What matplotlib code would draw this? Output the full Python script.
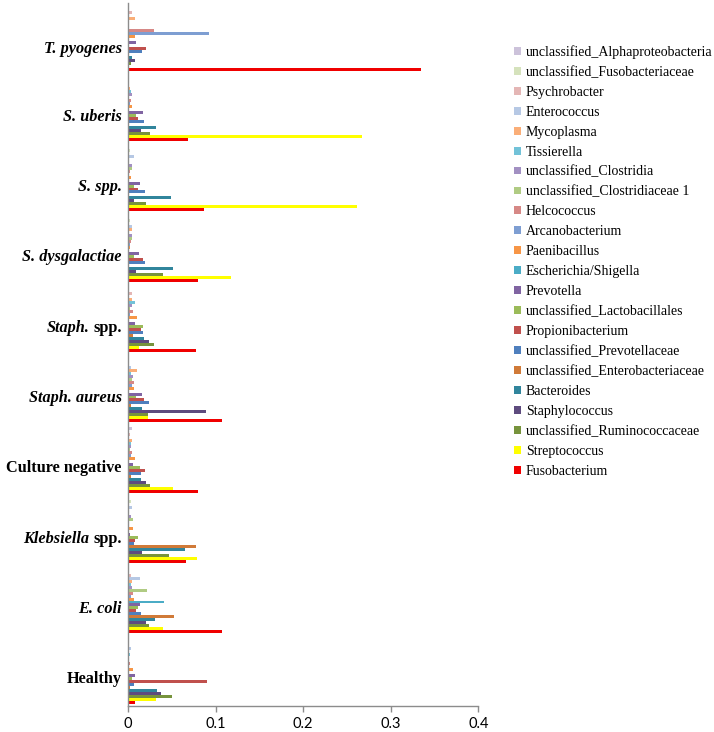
import numpy as np
import matplotlib
matplotlib.use("Agg")
import matplotlib.pyplot as plt
from matplotlib.patches import Patch

# categories, bottom to top
groups = ["Healthy", "E. coli", "Klebsiella spp.", "Culture negative",
          "Staph. aureus", "Staph. spp.", "S. dysgalactiae", "S. spp.",
          "S. uberis", "T. pyogenes"]
# (italic part, upright part) for each label
label_parts = [("", "Healthy"), ("E. coli", ""), ("Klebsiella", "spp."),
               ("", "Culture negative"), ("Staph. aureus", ""),
               ("Staph.", "spp."), ("S. dysgalactiae", ""), ("S. spp.", ""),
               ("S. uberis", ""), ("T. pyogenes", "")]

# series, drawn bottom (first) to top (last) inside each group
taxa = ["Fusobacterium", "Streptococcus", "unclassified_Ruminococcaceae",
        "Staphylococcus", "Bacteroides", "unclassified_Enterobacteriaceae",
        "unclassified_Prevotellaceae", "Propionibacterium",
        "unclassified_Lactobacillales", "Prevotella", "Escherichia/Shigella",
        "Paenibacillus", "Arcanobacterium", "Helcococcus",
        "unclassified_Clostridiaceae 1", "unclassified_Clostridia",
        "Tissierella", "Mycoplasma", "Enterococcus", "Psychrobacter",
        "unclassified_Fusobacteriaceae", "unclassified_Alphaproteobacteria"]

# relative abundance per group, in the order of `taxa`
healthy = [0.0084, 0.0316, 0.0507, 0.0373, 0.0331, 0.0023, 0.0072, 0.0907, 0.0042, 0.0076, 0,
           0.0061, 0, 0.0023, 0, 0, 0.0023, 0, 0.003, 0, 0, 0]
e_coli = [0.107, 0.0396, 0.0236, 0.021, 0.031, 0.0526, 0.0149, 0.0091, 0.0118, 0.0141, 0.0411,
          0.0065, 0.003, 0.0053, 0.0217, 0.005, 0.003, 0.0046, 0.0137, 0.0038, 0, 0.001]
klebsiella = [0.0663, 0.0792, 0.0469, 0.016, 0.0648, 0.0777, 0.0069, 0.0076, 0.011, 0.0023, 0,
              0.0057, 0, 0.001, 0.0053, 0.0034, 0, 0, 0.0046, 0, 0.0034, 0]
culture_negative = [0.0796, 0.0518, 0.0251, 0.021, 0.0152, 0.0034, 0.0149, 0.0194, 0.0141, 0.006,
                    0.001, 0.008, 0.003, 0.005, 0.0023, 0.0034, 0.0034, 0.0046, 0, 0.0027, 0, 0.004]
staph_aureus = [0.107, 0.0232, 0.0232, 0.0888, 0.016, 0.003, 0.0236, 0.0183, 0.0088, 0.016, 0,
                0.0069, 0.0046, 0.0069, 0.004, 0.006, 0.003, 0.0099, 0.003, 0, 0.001, 0]
staph_spp = [0.0773, 0.013, 0.0293, 0.0244, 0.0179, 0.0053, 0.0175, 0.0149, 0.0168, 0.0084, 0,
             0.0103, 0.002, 0.0057, 0.002, 0.0046, 0.008, 0.004, 0, 0.004, 0.001, 0.0015]
s_dysgalactiae = [0.080, 0.1177, 0.040, 0.009, 0.051, 0.001, 0.0195, 0.017, 0.0065, 0.013, 0,
                  0.002, 0.0027, 0.0035, 0.0045, 0.004, 0, 0.0045, 0.005, 0, 0.002, 0]
s_spp = [0.0869, 0.261, 0.020, 0.007, 0.049, 0.001, 0.019, 0.011, 0.007, 0.014, 0,
         0.003, 0.001, 0.0027, 0.005, 0.005, 0.001, 0, 0.007, 0, 0.002, 0]
s_uberis = [0.069, 0.267, 0.0255, 0.0145, 0.032, 0.001, 0.018, 0.011, 0.009, 0.0175, 0,
            0.0045, 0.0025, 0.003, 0, 0.005, 0.003, 0.002, 0, 0, 0.001, 0]
t_pyogenes = [0.334, 0, 0.003, 0.008, 0.005, 0, 0.016, 0.021, 0, 0.0095, 0,
              0.0076, 0.092, 0.030, 0, 0.0015, 0, 0.008, 0, 0.005, 0.0015, 0]

colors = ["#F00000", "#FFFF00", "#77933C", "#5E4B7E", "#31859C", "#D07A38",
          "#4F7FBD", "#C0504D", "#9BBB59", "#8064A2", "#4BACC6", "#F79646",
          "#7E9ED2", "#D68886", "#B0CB83", "#A290C2", "#72C2D8", "#FAAE78",
          "#B6C8E4", "#E4B6B5", "#D5E2BC", "#CCC2DA"]

values = np.array([healthy, e_coli, klebsiella, culture_negative, staph_aureus,
                   staph_spp, s_dysgalactiae, s_spp, s_uberis, t_pyogenes])

fig = plt.figure(figsize=(7.14, 7.32), dpi=100)
ax = fig.add_axes([128 / 714, 1 - 706 / 732, 350.4 / 714, 703.3 / 732])

n = len(taxa)
h = 1.0 / (n + 1.5)
ypos = np.arange(len(groups))
handles = []
for i, name in enumerate(taxa):
    offs = -0.5 + 0.75 * h + (i + 0.5) * h
    ax.barh(ypos + offs, values[:, i], height=h, color=colors[i], linewidth=0)
    handles.append(Patch(facecolor=colors[i], edgecolor="none", label=name))

ax.set_xlim(0, 0.4)
ax.set_ylim(-0.5, len(groups) - 0.5)
ax.set_xticks([0, 0.1, 0.2, 0.3, 0.4])
ax.set_xticklabels(["0", "0.1", "0.2", "0.3", "0.4"], family="Lato", fontsize=10.5)
ax.set_yticks([])
for s in ["top", "right"]:
    ax.spines[s].set_visible(False)
for s in ["left", "bottom"]:
    ax.spines[s].set_color("#8C8C8C")
    ax.spines[s].set_linewidth(1.0)
ax.tick_params(axis="x", length=4, width=1.0, color="#8C8C8C", pad=4)

lab_font = dict(family="Liberation Serif", fontsize=11.7, fontweight="bold")
for g, (it, up) in enumerate(label_parts):
    y = g - 0.12 if g < 9 else g - 0.16
    if up and not it:
        ax.annotate(up, xy=(0, y), xycoords=("axes fraction", "data"),
                    xytext=(-4.5, 0), textcoords="offset points",
                    ha="right", va="center", **lab_font)
    elif it and not up:
        ax.annotate(it, xy=(0, y), xycoords=("axes fraction", "data"),
                    xytext=(-4.5, 0), textcoords="offset points",
                    ha="right", va="center", fontstyle="italic", **lab_font)
    else:
        t_up = ax.annotate(up, xy=(0, y), xycoords=("axes fraction", "data"),
                           xytext=(-4.5, 0), textcoords="offset points",
                           ha="right", va="center", **lab_font)
        ax.annotate(it, xy=(0, 0.5), xycoords=t_up, xytext=(-3, 0),
                    textcoords="offset points", ha="right", va="center",
                    fontstyle="italic", **lab_font)

fig.legend(handles=handles[::-1], loc="upper left",
           bbox_to_anchor=(514 / 714, 1 - 45 / 732), frameon=False,
           prop=dict(family="Liberation Serif", size=10),
           handlelength=0.5, handleheight=0.5, handletextpad=0.35,
           labelspacing=0.5, borderpad=0, borderaxespad=0)

fig.savefig("out.png", dpi=100)
